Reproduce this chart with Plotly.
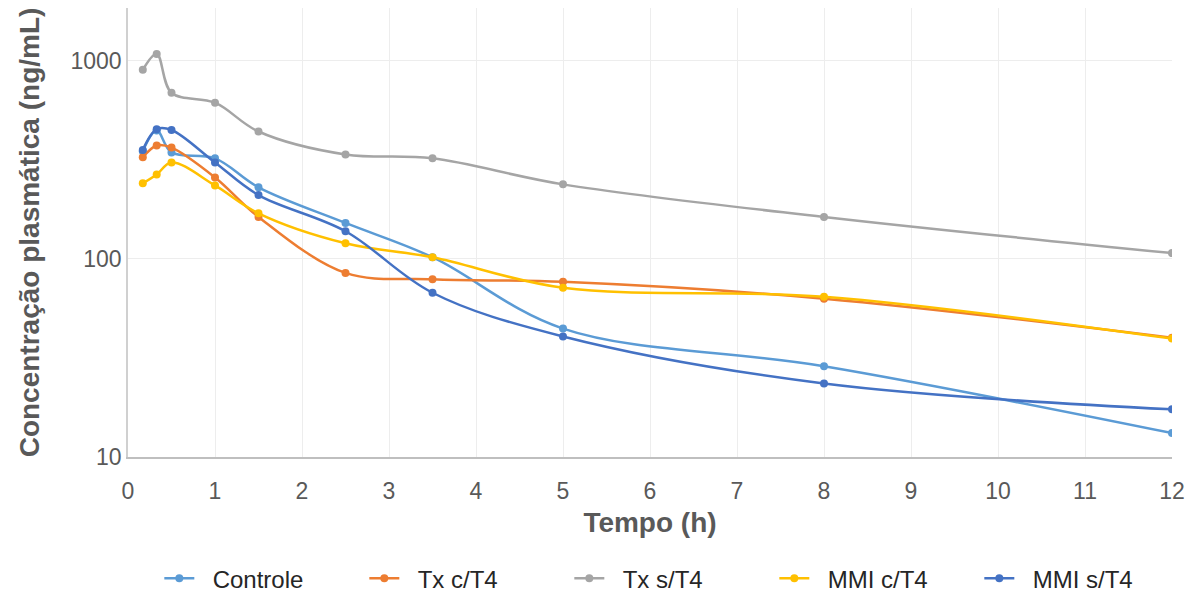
import plotly.graph_objects as go

tempo = [0.17, 0.33, 0.5, 1, 1.5, 2.5, 3.5, 5, 8, 12]

controle = [350, 445, 345, 322, 230, 152, 102, 44.5, 28.7, 13.2]
tx_c_t4 = [326, 374, 365, 258, 163, 85, 79, 76.6, 63.0, 40.0]
tx_s_t4 = [901, 1084, 690, 615, 440, 337, 322, 238, 163, 107]
mmi_c_t4 = [241, 267, 307, 235, 170, 120, 102, 71.5, 64.5, 39.6]
mmi_s_t4 = [355, 452, 448, 307, 210, 138, 67.5, 40.6, 23.5, 17.4]

series_names = ["Controle", "Tx c/T4", "Tx s/T4", "MMI c/T4", "MMI s/T4"]
series_values = [controle, tx_c_t4, tx_s_t4, mmi_c_t4, mmi_s_t4]
colors = ["#5B9BD5", "#ED7D31", "#A5A5A5", "#FFC000", "#4472C4"]

y_ticks = [10, 100, 1000]
x_ticks = list(range(0, 13))

fig = go.Figure()
for name, vals, col in zip(series_names, series_values, colors):
    fig.add_trace(go.Scatter(
        x=tempo, y=vals, name="\u00a0\u00a0" + name, mode="lines+markers",
        line=dict(color=col, width=2.5, shape="spline", smoothing=1.0),
        marker=dict(color=col, size=8),
    ))

font_fam = "Liberation Sans, Arial, sans-serif"
fig.update_layout(
    width=1200, height=608,
    margin=dict(l=128, r=28, t=8, b=150),
    paper_bgcolor="white", plot_bgcolor="white",
    font=dict(family=font_fam, color="#595959"),
    showlegend=True,
    legend=dict(
        orientation="h", x=0.03, xanchor="left", y=-0.268, yanchor="middle",
        font=dict(size=24, color="#262626", family=font_fam),
        entrywidth=160, entrywidthmode="pixels",
        bgcolor="rgba(0,0,0,0)",
    ),
)
fig.update_xaxes(
    range=[0, 12], tickvals=x_ticks, ticktext=[str(v) for v in x_ticks],
    showgrid=True, gridcolor="#EDEDED", gridwidth=1,
    showline=True, linecolor="#BFBFBF", linewidth=1.5,
    zeroline=False, ticks="", ticklabelstandoff=13,
    tickfont=dict(size=23, color="#595959"),
    title=dict(text="<b>Tempo (h)</b>", font=dict(size=28, color="#595959"), standoff=9),
    automargin=False,
)
fig.update_yaxes(
    type="log", range=[1, 3.267], tickvals=y_ticks, ticktext=[str(v) for v in y_ticks],
    showgrid=True, gridcolor="#EDEDED", gridwidth=1,
    showline=True, linecolor="#D0D0D0", linewidth=1.5,
    zeroline=False, ticks="",
    tickfont=dict(size=23, color="#595959"),
    title=dict(text="<b>Concentração plasmática (ng/mL)</b>", font=dict(size=28, color="#595959"), standoff=23),
    automargin=False,
)

fig.write_html("out.html")
